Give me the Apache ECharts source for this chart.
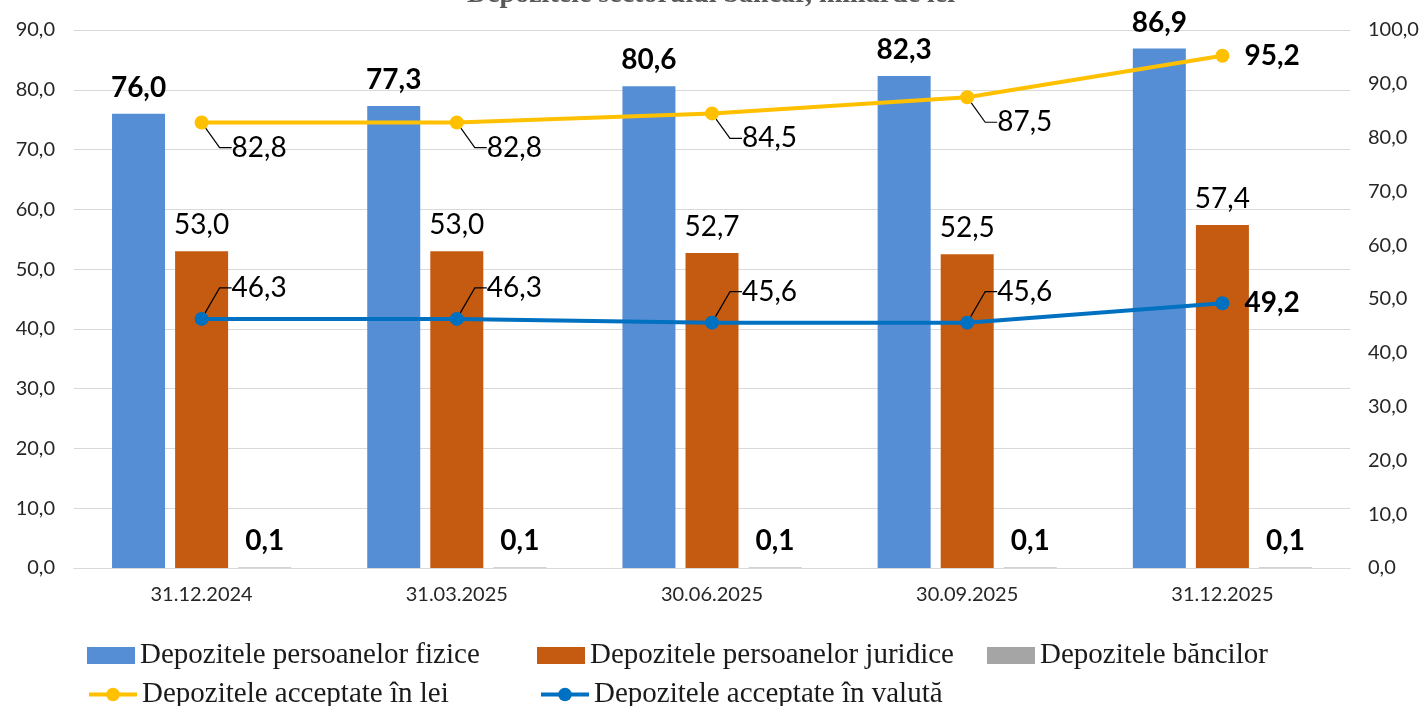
<!DOCTYPE html>
<html>
<head>
<meta charset="utf-8">
<script src="https://cdn.jsdelivr.net/npm/echarts@6/dist/echarts.min.js"></script>
<style>
html,body{margin:0;padding:0;background:#fff;}
#c{width:1422px;height:706px;}
</style>
</head>
<body>
<div id="c"></div>
<script>
const titleText = 'Depozitele sectorului bancar, miliarde lei';
const categories = ['31.12.2024', '31.03.2025', '30.06.2025', '30.09.2025', '31.12.2025'];
const seriesNames = ['Depozitele persoanelor fizice', 'Depozitele persoanelor juridice', 'Depozitele băncilor', 'Depozitele acceptate în lei', 'Depozitele acceptate în valută'];
const fizice = [76.0, 77.3, 80.6, 82.3, 86.9];
const juridice = [53.0, 53.0, 52.7, 52.5, 57.4];
const banci = [0.1, 0.1, 0.1, 0.1, 0.1];
const lei = [82.8, 82.8, 84.5, 87.5, 95.2];
const valuta = [46.3, 46.3, 45.6, 45.6, 49.2];
const leftTicks = { min: 0, max: 90, interval: 10 };
const rightTicks = { min: 0, max: 100, interval: 10 };

const fmt = v => Number(v).toFixed(1).replace('.', ',');
const labelFont = 'Lato, "Noto Sans", sans-serif';

function lineData(arr) {
  const last = arr.length - 1;
  return arr.map((v, i) => i === last
    ? { value: v, label: { fontWeight: 'bold' }, labelLine: { show: false } }
    : { value: v });
}

const legendBase = {
  left: 87,
  width: 1340,
  padding: 0,
  itemWidth: 48,
  itemHeight: 17,
  itemGap: 16,
  lineStyle: { width: 4 },
  textStyle: { fontFamily: '"Liberation Serif", serif', fontSize: 29, color: '#1a1a1a', width: 381, lineHeight: 22 }
};

const chart = echarts.init(document.getElementById('c'), null, { renderer: 'canvas' });
chart.setOption({
  animation: false,
  backgroundColor: '#ffffff',
  title: {
    text: titleText,
    left: 'center',
    top: -24,
    textStyle: { fontFamily: '"Liberation Serif", serif', fontSize: 28, fontWeight: 'bold', color: '#595959' }
  },
  grid: { left: 74, right: 72, top: 30, bottom: 138, containLabel: false },
  legend: [
    Object.assign({}, legendBase, {
      top: 641,
      data: [
        { name: seriesNames[0], icon: 'rect' },
        { name: seriesNames[1], icon: 'rect' },
        { name: seriesNames[2], icon: 'rect' }
      ]
    }),
    Object.assign({}, legendBase, {
      top: 680,
      data: [
        { name: seriesNames[3] },
        { name: seriesNames[4] }
      ]
    })
  ],
  xAxis: {
    type: 'category',
    data: categories,
    axisLine: { lineStyle: { color: '#d9d9d9', width: 1 } },
    axisTick: { show: false },
    axisLabel: { fontFamily: labelFont, fontSize: 20, color: '#262626', margin: 17 }
  },
  yAxis: [
    {
      type: 'value', min: leftTicks.min, max: leftTicks.max, interval: leftTicks.interval,
      axisLine: { show: false }, axisTick: { show: false },
      splitLine: { lineStyle: { color: '#d9d9d9', width: 1 } },
      axisLabel: { fontFamily: labelFont, fontSize: 20, color: '#262626', margin: 19, formatter: fmt }
    },
    {
      type: 'value', min: rightTicks.min, max: rightTicks.max, interval: rightTicks.interval,
      axisLine: { show: false }, axisTick: { show: false },
      splitLine: { show: false },
      axisLabel: { fontFamily: labelFont, fontSize: 20, color: '#262626', margin: 18, formatter: fmt }
    }
  ],
  series: [
    {
      name: seriesNames[0], type: 'bar', data: fizice, barWidth: 53, barGap: '19%',
      itemStyle: { color: '#558ED5' },
      label: { show: true, position: 'top', distance: 12, formatter: p => fmt(p.value), fontFamily: labelFont, fontSize: 28, fontWeight: 'bold', color: '#000' }
    },
    {
      name: seriesNames[1], type: 'bar', data: juridice, barWidth: 53, barGap: '19%',
      itemStyle: { color: '#C55A11' },
      label: { show: true, position: 'top', distance: 12, formatter: p => fmt(p.value), fontFamily: labelFont, fontSize: 28, fontWeight: 'normal', color: '#000' }
    },
    {
      name: seriesNames[2], type: 'bar', data: banci, barWidth: 53, barGap: '19%',
      itemStyle: { color: '#A5A5A5' },
      label: { show: true, position: 'top', distance: 12, formatter: p => fmt(p.value), fontFamily: labelFont, fontSize: 28, fontWeight: 'bold', color: '#000' }
    },
    {
      name: seriesNames[3], type: 'line', yAxisIndex: 1, data: lineData(lei),
      symbol: 'circle', symbolSize: 14,
      lineStyle: { color: '#FFC000', width: 4 },
      itemStyle: { color: '#FFC000' },
      label: { show: true, position: 'right', distance: 15, formatter: p => fmt(p.value), fontFamily: labelFont, fontSize: 28, color: '#000' },
      labelLayout: p => p.dataIndex < lei.length - 1 ? { dx: 8, dy: 25 } : {},
      labelLine: { show: true, length2: 12, lineStyle: { color: '#000', width: 1.2 } },
      z: 5
    },
    {
      name: seriesNames[4], type: 'line', yAxisIndex: 1, data: lineData(valuta),
      symbol: 'circle', symbolSize: 14,
      lineStyle: { color: '#0070C0', width: 4 },
      itemStyle: { color: '#0070C0' },
      label: { show: true, position: 'right', distance: 15, formatter: p => fmt(p.value), fontFamily: labelFont, fontSize: 28, color: '#000' },
      labelLayout: p => p.dataIndex < valuta.length - 1 ? { dx: 8, dy: -31 } : {},
      labelLine: { show: true, length2: 12, lineStyle: { color: '#000', width: 1.2 } },
      z: 5
    }
  ]
});
</script>
</body>
</html>
